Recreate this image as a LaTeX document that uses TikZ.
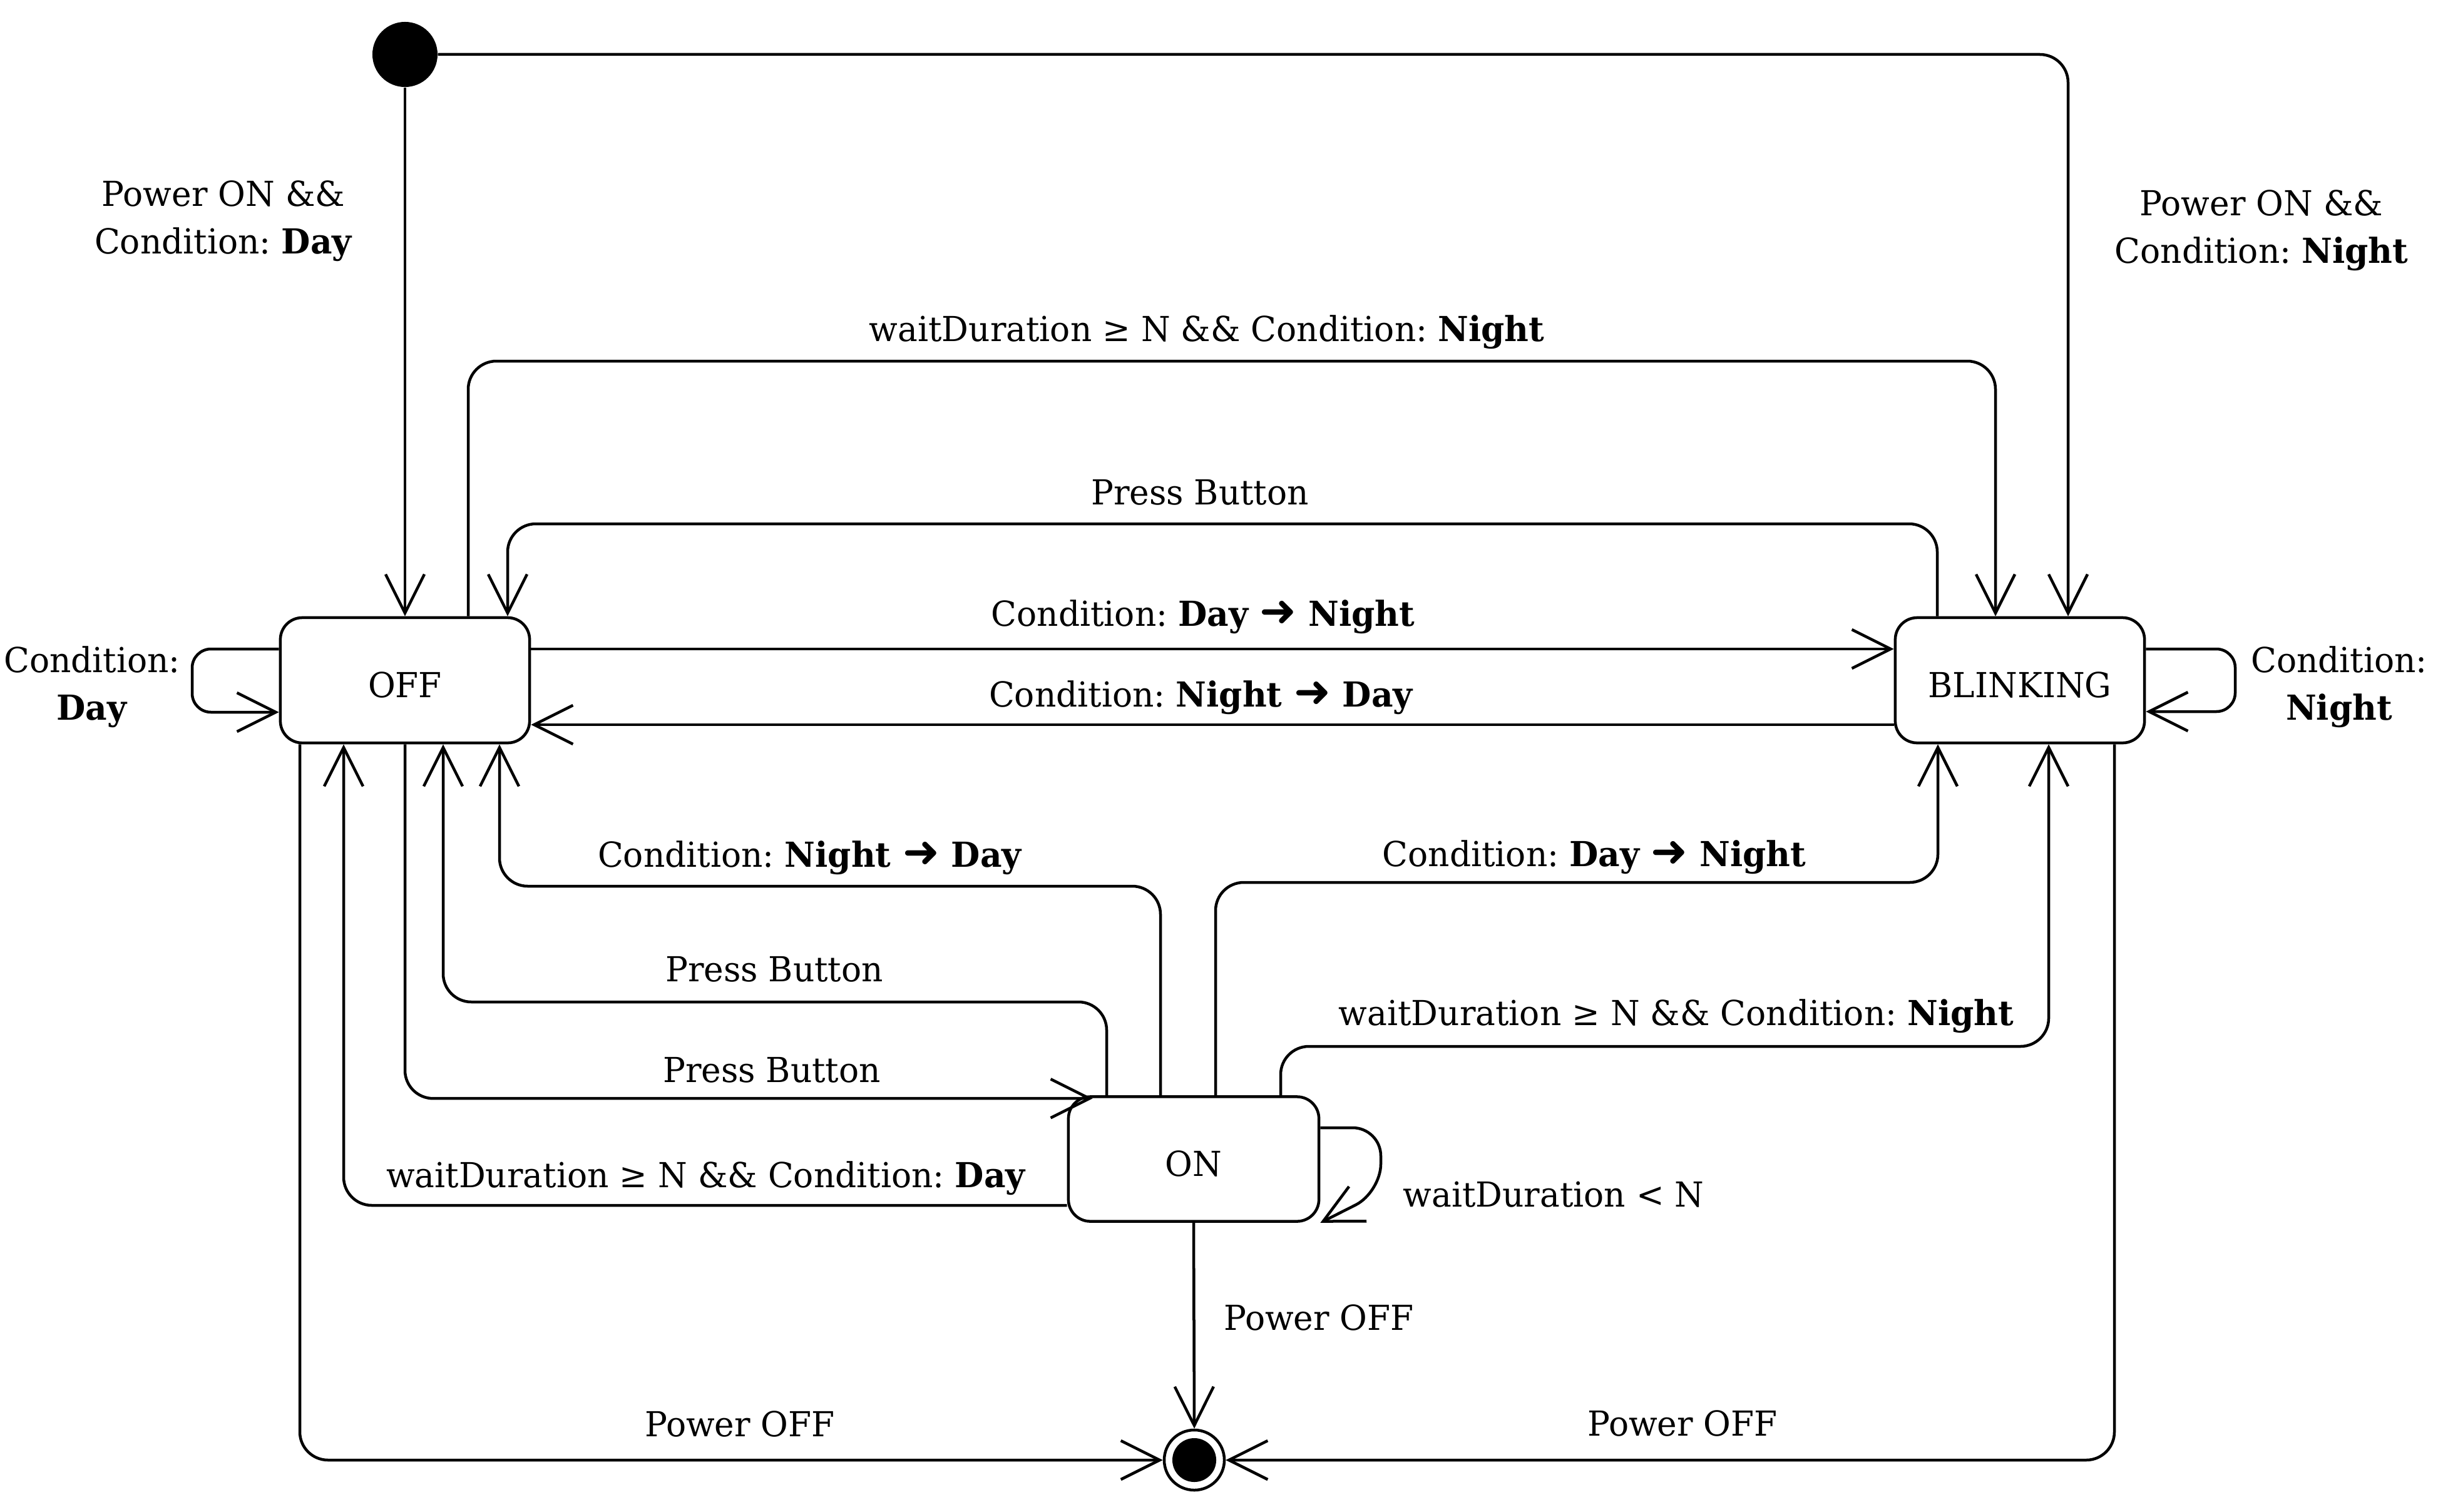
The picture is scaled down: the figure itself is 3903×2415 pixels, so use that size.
\documentclass[tikz,border=0pt]{standalone}
\usepackage{fontspec}
\setmainfont{DejaVu Serif}[FakeStretch=0.97]
\newfontfamily\symfont{DejaVu Sans}
\usetikzlibrary{arrows.meta,calc}
\frenchspacing
\newcommand{\lblfont}{\fontsize{15.65pt}{21.5pt}\selectfont\frenchspacing}
\newcommand{\arr}{{\symfont\mdseries\fontsize{20pt}{20pt}\selectfont ➜}}
\tikzset{
  state/.style={draw, rounded corners=0.35cm, minimum width=3.98cm, minimum height=2cm,
    inner sep=0pt, line width=0.045cm, font=\lblfont, text height=0.54cm, text depth=0pt},
  initst/.style={circle, fill, draw=none, minimum size=1.04cm, inner sep=0pt},
  finalst/.style={circle, draw, line width=0.045cm, minimum size=0.96cm, inner sep=0pt},
  finalcore/.style={circle, fill, draw=none, minimum size=0.7cm, inner sep=0pt},
  tr/.style={draw, line width=0.045cm, rounded corners=0.45cm,
    -{Straight Barb[length=0.62cm,width=0.62cm]}},
  lbl/.style={anchor=base, inner sep=0pt, font=\lblfont},
}
\begin{document}
\begin{tikzpicture}[x=0.01cm,y=-0.01cm]
\useasboundingbox (0,0) rectangle (3903,2415);
% states
\node[initst] (I) at (647,87) {};
\node[state] (OFF) at (647,1087) {OFF};
\node[state] (B) at (3227,1087) {BLINKING};
\node[state, minimum width=4cm, minimum height=1.99cm] (ON) at (1907,1852) {ON};
\node[finalst] (F) at (1908,2333) {};
\node[finalcore] (Fc) at (F) {};
% transitions
\draw[tr] (I.south) -- (OFF.north);
\draw[tr] (I.east) -| (B.north -| 3304,0);
\draw[tr] (OFF.north -| 748,0) |- (3188,577) -- (B.north -| 3188,0);
\draw[tr] (B.north -| 3095,0) |- (811,837) -- (OFF.north -| 811,0);
\draw[tr] (OFF.east |- 0,1037) -- (B.west |- 0,1037);
\draw[tr] (B.west |- 0,1158) -- (OFF.east |- 0,1158);
\draw[tr, rounded corners=0.3cm] (OFF.west |- 0,1037) -- (307,1037) -- (307,1138) -- (OFF.west |- 0,1138);
\draw[tr, rounded corners=0.3cm] (B.east |- 0,1037) -- (3571,1037) -- (3571,1137) -- (B.east |- 0,1137);
\draw[tr] (ON.north -| 1854,0) |- (798,1416) -- (OFF.south -| 798,0);
\draw[tr] (ON.north -| 1942,0) |- (3096,1410) -- (B.south -| 3096,0);
\draw[tr] (ON.north -| 1768,0) |- (708,1601) -- (OFF.south -| 708,0);
\draw[tr] (OFF.south) |- ([shift={(41,5)}]ON.north west);
\draw[tr] (ON.north -| 2046,0) |- (3273,1672) -- (B.south -| 3273,0);
\draw[tr] (ON.west |- 0,1926) -| (OFF.south -| 549,0);
\draw[tr] (ON.east |- 0,1802) -- (2206,1802) -- (2206,1905) -- (ON.south east);
\draw[tr] (ON.south) -- (F.north);
\draw[tr] (OFF.south -| 479,0) |- (F.west);
\draw[tr] (B.south -| 3378,0) |- (F.east);
% labels
\node[lbl] (t1a) at (357,330) {Power ON \&\&};
\node[lbl] (t1b) at (357,405) {Condition: \textbf{Day}};
\node[lbl] (t2a) at (3613,344) {Power ON \&\&};
\node[lbl] (t2b) at (3613,420) {Condition: \textbf{Night}};
\node[lbl] (t3) at (1928,545) {waitDuration ≥ N \&\& Condition: \textbf{Night}};
\node[lbl] (t4) at (1917,806) {Press Button};
\node[lbl] (t5) at (1922,1000) {Condition: \textbf{Day \arr\ Night}};
\node[lbl] (t6) at (1919,1129) {Condition: \textbf{Night \arr\ Day}};
\node[lbl] (t7a) at (147,1074) {Condition:};
\node[lbl] (t7b) at (147,1150) {\textbf{Day}};
\node[lbl] (t8a) at (3737,1074) {Condition:};
\node[lbl] (t8b) at (3737,1150) {\textbf{Night}};
\node[lbl] (t9) at (1294,1385) {Condition: \textbf{Night \arr\ Day}};
\node[lbl] (t10) at (2547,1384) {Condition: \textbf{Day \arr\ Night}};
\node[lbl] (t11) at (1237,1568) {Press Button};
\node[lbl] (t12) at (1233,1729) {Press Button};
\node[lbl] (t13) at (2678,1638) {waitDuration ≥ N \&\& Condition: \textbf{Night}};
\node[lbl] (t14) at (1128,1897) {waitDuration ≥ N \&\& Condition: \textbf{Day}};
\node[lbl] (t15) at (2482,1928) {waitDuration < N};
\node[lbl] (t16) at (2107,2125) {Power OFF};
\node[lbl] (t17) at (1182,2295) {Power OFF};
\node[lbl] (t18) at (2688,2294) {Power OFF};
\end{tikzpicture}
\end{document}
